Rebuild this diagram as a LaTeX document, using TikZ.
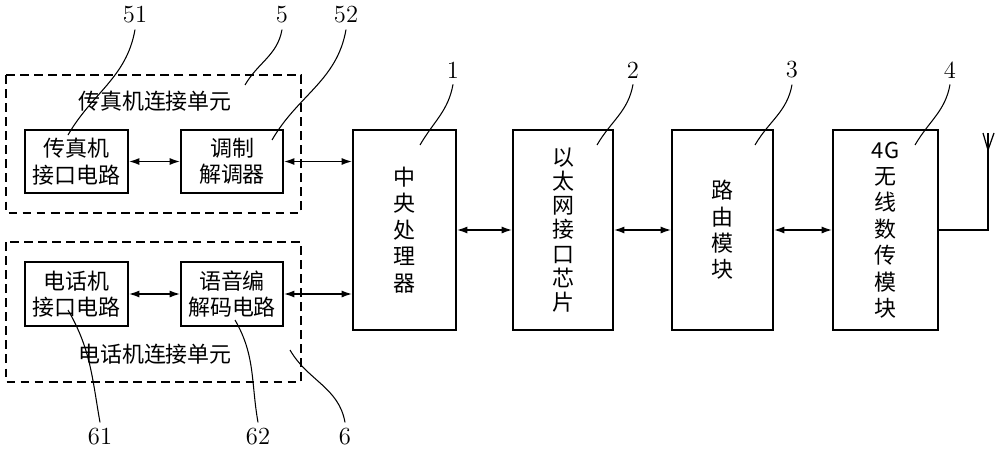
\documentclass[tikz,border=0pt]{standalone}
\usepackage{fontspec}
\newfontfamily\cjk{Noto Sans CJK SC}
\usetikzlibrary{arrows.meta}
\tikzset{
    blk/.style={draw, line width=0.9pt, align=center, font=\cjk\fontsize{12.5}{15}\selectfont},
    unit/.style={draw, dash pattern=on 5pt off 3pt, line width=0.9pt},
    link/.style={line width=0.9pt, {Latex[length=6pt,width=4pt]}-{Latex[length=6pt,width=4pt]}},
    lead/.style={line width=0.6pt},
    num/.style={font=\fontsize{14}{15}\selectfont},
}
\begin{document}
\begin{tikzpicture}[x=0.02cm,y=-0.02cm]
    \useasboundingbox (0,0) rectangle (1000,453);
    % units
    \draw[unit] (6,75) rectangle (301,213);
    \draw[unit] (6,242) rectangle (301,382);
    \node[font=\cjk\fontsize{12.5}{15}\selectfont] (u5) at (155,101) {传真机连接单元};
    \node[font=\cjk\fontsize{12.5}{15}\selectfont] (u6) at (155,354) {电话机连接单元};
    % blocks
    \node[blk, minimum width=103*0.02cm, minimum height=63*0.02cm] (fax) at (76.5,161.5) {传真机\\接口电路};
    \node[blk, minimum width=102*0.02cm, minimum height=63*0.02cm] (modem) at (232,161.5) {调制\\解调器};
    \node[blk, minimum width=103*0.02cm, minimum height=64*0.02cm] (tel) at (76.5,294) {电话机\\接口电路};
    \node[blk, minimum width=102*0.02cm, minimum height=64*0.02cm] (codec) at (232,294) {语音编\\解码电路};
    \node[blk, minimum width=103*0.02cm, minimum height=200*0.02cm] (cpu) at (404.5,230) {中\\央\\处\\理\\器};
    \node[blk, minimum width=100*0.02cm, minimum height=200*0.02cm, font=\cjk\fontsize{12.5}{13.8}\selectfont] (eth) at (563,230) {以\\太\\网\\接\\口\\芯\\片};
    \node[blk, minimum width=101*0.02cm, minimum height=200*0.02cm] (route) at (722.5,230) {路\\由\\模\\块};
    \node[blk, minimum width=105*0.02cm, minimum height=200*0.02cm, font=\cjk\fontsize{12.5}{15}\selectfont] (lte) at (885.5,230) {4G\\无\\线\\数\\传\\模\\块};
    % links
    \draw[link] (fax) -- (modem);
    \draw[link] (tel) -- (codec);
    \draw[link] (modem.east) -- (modem.east -| cpu.west);
    \draw[link] (codec.east) -- (codec.east -| cpu.west);
    \draw[link] (cpu) -- (eth);
    \draw[link] (eth) -- (route);
    \draw[link] (route) -- (lte);
    % antenna
    \coordinate (ant) at (988,150);
    \draw[line width=0.9pt] (lte.east |- 0,230) -| (ant);
    \draw[line width=0.7pt] (983,133) -- (ant) -- (994,133);
    \draw[line width=0.7pt] (ant) -- (988,133);
    % reference numbers
    \node[num] (n51) at (135,15) {51};
    \node[num] (n5) at (282,15) {5};
    \node[num] (n52) at (346,15) {52};
    \node[num] (n1) at (453,70) {1};
    \node[num] (n2) at (633,70) {2};
    \node[num] (n3) at (792,70) {3};
    \node[num] (n4) at (950,70) {4};
    \node[num] (n61) at (100,437) {61};
    \node[num] (n62) at (258,437) {62};
    \node[num] (n6) at (345,437) {6};
    \draw[lead] (n51.south) to[out=-100,in=60] (68,135);
    \draw[lead] (n5.south) to[out=-100,in=60] (245,85);
    \draw[lead] (n52.south) to[out=-100,in=60] (272,140);
    \draw[lead] (n1.south) to[out=-100,in=60] (420,145);
    \draw[lead] (n2.south) to[out=-100,in=60] (597,145);
    \draw[lead] (n3.south) to[out=-100,in=60] (755,145);
    \draw[lead] (n4.south) to[out=-100,in=60] (915,145);
    \draw[lead] (n61.north) to[out=100,in=-60] (68,310);
    \draw[lead] (n62.north) to[out=100,in=-60] (235,320);
    \draw[lead] (n6.north) to[out=100,in=-60] (290,350);
\end{tikzpicture}
\end{document}
